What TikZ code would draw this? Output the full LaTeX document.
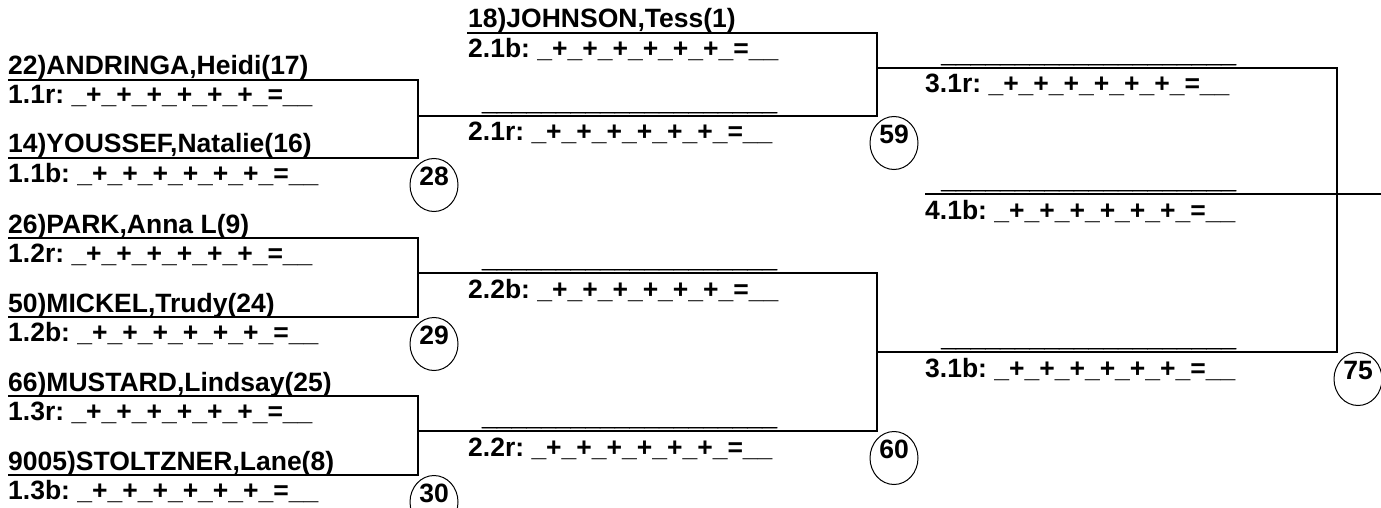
\documentclass[tikz,border=0pt]{standalone}
\usepackage{fontspec}
\setmainfont{Liberation Sans}
\newfontfamily\heavyfont[BoldFeatures={FakeBold=1.5}]{Liberation Sans}
\usetikzlibrary{shapes.geometric}
\tikzset{
  txt/.style={anchor=base west, inner sep=0pt, font=\fontsize{26.5}{30}\bfseries\selectfont\frenchspacing},
  blank/.style={anchor=base west, inner sep=0pt, font=\heavyfont\fontsize{26.5}{30}\bfseries\selectfont},
  seed/.style={draw, ellipse, line width=1pt, minimum width=48pt, minimum height=53pt, inner sep=0pt,
    anchor=north, text height=8pt, text depth=8pt, font=\fontsize{26.5}{30}\bfseries\selectfont},
  br/.style={line width=1.1pt}
}
\newcommand{\scoreline}{\_+\_+\_+\_+\_+\_+\_=\_\_}
\newcommand{\blankline}{\_\_\_\_\_\_\_\_\_\_\_\_\_\_\_\_\_\_\_\_}
\begin{document}
\begin{tikzpicture}[x=1pt,y=-1pt]
\useasboundingbox (0,0) rectangle (1381,508);
\clip (0,0) rectangle (1381,508);
% ---------- round 1 ----------
\coordinate (a1s) at (8,80);   \coordinate (a1e) at (418,80);
\coordinate (b1s) at (8,158);  \coordinate (b1e) at (418,158);
\coordinate (a2s) at (8,238);  \coordinate (a2e) at (418,238);
\coordinate (b2s) at (8,317);  \coordinate (b2e) at (418,317);
\coordinate (a3s) at (8,396);  \coordinate (a3e) at (418,396);
\coordinate (b3s) at (8,475);  \coordinate (b3e) at (418,475);
\node[txt] (n1) at (8,75) {22)ANDRINGA,Heidi(17)};
\node[txt] (s1) at (8,104) {1.1r: \scoreline};
\node[txt] (n2) at (8,153) {14)YOUSSEF,Natalie(16)};
\node[txt] (s2) at (8,182) {1.1b: \scoreline};
\node[txt] (n3) at (8,233) {26)PARK,Anna L(9)};
\node[txt] (s3) at (8,262) {1.2r: \scoreline};
\node[txt] (n4) at (8,312) {50)MICKEL,Trudy(24)};
\node[txt] (s4) at (8,341) {1.2b: \scoreline};
\node[txt] (n5) at (8,391) {66)MUSTARD,Lindsay(25)};
\node[txt] (s5) at (8,420) {1.3r: \scoreline};
\node[txt] (n6) at (8,470) {9005)STOLTZNER,Lane(8)};
\node[txt] (s6) at (8,499) {1.3b: \scoreline};
\node[seed] (c28) at (434,158) {28};
\node[seed] (c29) at (434,317) {29};
\node[seed] (c30) at (434,475) {30};
\draw[br] (a1s) -- (a1e) -- (b1e) -- (b1s);
\draw[br] (a2s) -- (a2e) -- (b2e) -- (b2s);
\draw[br] (a3s) -- (a3e) -- (b3e) -- (b3s);
% ---------- round 2 ----------
\coordinate (r21bs) at (467,33);  \coordinate (r21be) at (877,33);
\coordinate (r21rs) at (418,116); \coordinate (r21re) at (877,116);
\coordinate (r22bs) at (418,273); \coordinate (r22be) at (877,273);
\coordinate (r22rs) at (418,431); \coordinate (r22re) at (877,431);
\node[txt] (n7) at (468,28) {18)JOHNSON,Tess(1)};
\node[txt] (s7) at (468,58) {2.1b: \scoreline};
\node[blank] (u1) at (482,110) {\blankline};
\node[txt] (s8) at (468,141) {2.1r: \scoreline};
\node[blank] (u2) at (482,267) {\blankline};
\node[txt] (s9) at (468,298) {2.2b: \scoreline};
\node[blank] (u3) at (482,425) {\blankline};
\node[txt] (s10) at (468,456) {2.2r: \scoreline};
\node[seed] (c59) at (894,116) {59};
\node[seed] (c60) at (894,431) {60};
\draw[br] (r21bs) -- (r21be) -- (r21re) -- (r21rs);
\draw[br] (r22bs) -- (r22be) -- (r22re) -- (r22rs);
% ---------- round 3 ----------
\coordinate (r31rs) at (877,68);  \coordinate (r31re) at (1337,68);
\coordinate (r31bs) at (877,352); \coordinate (r31be) at (1337,352);
\coordinate (r41s) at (925,194);  \coordinate (r41e) at (1381,194);
\node[blank] (u4) at (941,62) {\blankline};
\node[txt] (s11) at (925,93) {3.1r: \scoreline};
\node[blank] (u5) at (941,188) {\blankline};
\node[txt] (s12) at (925,219) {4.1b: \scoreline};
\node[blank] (u6) at (941,346) {\blankline};
\node[txt] (s13) at (925,377) {3.1b: \scoreline};
\node[seed] (c75) at (1358,352) {75};
\draw[br] (r31rs) -- (r31re) -- (r31be) -- (r31bs);
\draw[br] (r41s) -- (r41e);
\end{tikzpicture}
\end{document}
